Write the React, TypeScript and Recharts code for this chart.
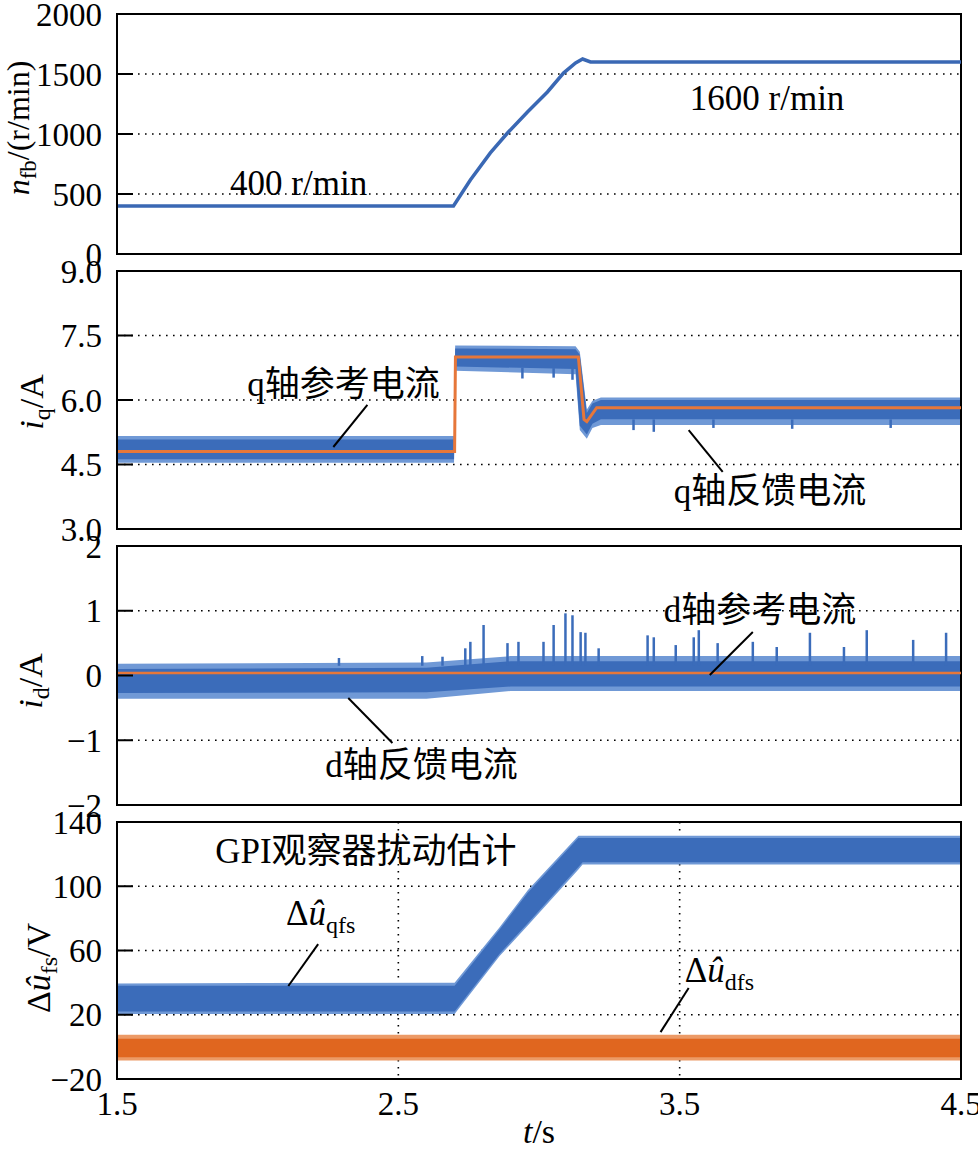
import React from 'react';
import {
  ComposedChart,
  Line,
  Area,
  XAxis,
  YAxis,
  CartesianGrid,
  ReferenceLine,
  ReferenceDot,
  ReferenceArea,
} from 'recharts';

// ---------- shared axis ----------
const tDomain = [1.5, 4.5];
const tTicks = [1.5, 2.5, 3.5, 4.5];

// ---------- panel 1: speed n_fb ----------
const speedT = [1.5, 2.696, 2.756, 2.827, 2.888, 2.959, 3.03, 3.087, 3.13, 3.155, 3.183, 4.5];
const speedN = [400, 400, 617, 842, 1008, 1183, 1350, 1508, 1592, 1625, 1600, 1600];
const speedTicks = [0, 500, 1000, 1500, 2000];

// ---------- panel 2: i_q ----------
const iqRefT = [1.5, 2.7, 2.703, 3.14, 3.16, 3.17, 3.205, 4.5];
const iqRefV = [4.8, 4.8, 7.0, 7.0, 5.55, 5.5, 5.82, 5.82];
const iqBandT = [1.5, 2.698, 2.702, 3.13, 3.145, 3.17, 3.19, 3.22, 4.5];
const iqFringeHigh = [5.16, 5.16, 7.27, 7.25, 7.12, 5.78, 5.98, 6.06, 6.06];
const iqFringeLow = [4.54, 4.54, 6.68, 6.6, 5.3, 5.1, 5.35, 5.42, 5.42];
const iqCoreHigh = [5.08, 5.08, 7.2, 7.18, 7.05, 5.7, 5.92, 6.0, 6.0];
const iqCoreLow = [4.62, 4.62, 6.78, 6.72, 5.4, 5.2, 5.45, 5.55, 5.55];
const iqSpikeT = [2.941, 3.052, 3.119, 3.336, 3.408, 3.62, 3.9, 4.25];
const iqSpikeFrom = [6.75, 6.74, 6.73, 5.55, 5.55, 5.55, 5.55, 5.55];
const iqSpikeTo = [6.5, 6.52, 6.47, 5.3, 5.26, 5.35, 5.33, 5.35];
const iqTicks = [3.0, 4.5, 6.0, 7.5, 9.0];

// ---------- panel 3: i_d ----------
const idRefT = [1.5, 4.5];
const idRefV = [0.04, 0.04];
const idBandT = [1.5, 2.6, 2.9, 4.5];
const idFringeHigh = [0.18, 0.2, 0.3, 0.3];
const idFringeLow = [-0.36, -0.36, -0.24, -0.24];
const idCoreHigh = [0.1, 0.12, 0.22, 0.22];
const idCoreLow = [-0.27, -0.26, -0.17, -0.17];
const idSpikeT = [2.289, 2.585, 2.657, 2.738, 2.756, 2.803, 2.888, 2.927, 3.016, 3.052, 3.094, 3.119, 3.148, 3.165, 3.212, 3.386, 3.408, 3.486, 3.55, 3.568, 3.635, 3.76, 3.845, 3.963, 4.084, 4.165, 4.33, 4.447];
const idSpikeV = [0.27, 0.3, 0.29, 0.42, 0.52, 0.78, 0.5, 0.52, 0.52, 0.78, 0.96, 0.93, 0.67, 0.66, 0.42, 0.62, 0.59, 0.47, 0.59, 0.7, 0.5, 0.52, 0.44, 0.66, 0.44, 0.7, 0.55, 0.66];
const idSpikeBase = 0.15;
const idTicks = [-2, -1, 0, 1, 2];

// ---------- panel 4: GPI disturbance estimates ----------
const qfsT = [1.5, 2.7, 2.86, 2.96, 3.14, 3.155, 4.5];
const qfsHigh = [38, 38, 73, 96, 130, 130, 130];
const qfsLow = [22, 22, 58, 77, 112, 115, 115];
const qfsFringeHigh = [39.5, 40, 74.5, 97.5, 131.5, 131.5, 131.5];
const qfsFringeLow = [20.5, 20.5, 56.5, 75.5, 110.5, 113.5, 113.5];
const dfsT = [1.5, 4.5];
const dfsHigh = [5, 5];
const dfsLow = [-6.5, -6.5];
const dfsFringeHigh = [7.5, 7.5];
const dfsFringeLow = [-8.5, -8.5];
const uTicks = [-20, 20, 60, 100, 140];

// ---------- styling ----------
const W = 978;
const PLOT_LEFT = 117;
const PLOT_RIGHT = 961;
const M = 20;
const SERIF = "'Liberation Serif', 'Times New Roman', serif";
const MIXED = "'Liberation Serif', 'Noto Sans CJK SC', serif";
const BLUE = '#3B6CBA';
const BLUE_LIGHT = '#7099D6';
const ORANGE = '#E6773A';
const ORANGE_BAND = '#E0661F';
const ORANGE_LIGHT = '#EC9A66';

const band = (t: number[], lo: number[], hi: number[]) => t.map((x, i) => ({ t: x, r: [lo[i], hi[i]] }));
const line = (t: number[], v: number[]) => t.map((x, i) => ({ t: x, v: v[i] }));

const areaEl = (key: string, data: any[], fill: string, opacity = 1) => (
  <Area
    key={key}
    data={data}
    dataKey="r"
    type="linear"
    stroke="none"
    fill={fill}
    fillOpacity={opacity}
    isAnimationActive={false}
    dot={false}
    activeDot={false}
  />
);

const lineEl = (key: string, data: any[], stroke: string, width: number) => (
  <Line
    key={key}
    data={data}
    dataKey="v"
    type="linear"
    stroke={stroke}
    strokeWidth={width}
    dot={false}
    activeDot={false}
    isAnimationActive={false}
  />
);

const note = (key: string, t: number, v: number, content: React.ReactNode, size = 35) => (
  <ReferenceDot
    key={key}
    x={t}
    y={v}
    r={0}
    ifOverflow="visible"
    shape={(p: any) => (
      <text x={p.cx} y={p.cy} textAnchor="start" fontFamily={MIXED} fontSize={size} fill="#000">
        {content}
      </text>
    )}
  />
);

const leader = (key: string, t1: number, v1: number, t2: number, v2: number) => (
  <ReferenceLine
    key={key}
    segment={[
      { x: t1, y: v1 },
      { x: t2, y: v2 },
    ]}
    stroke="#000"
    strokeWidth={2}
    ifOverflow="visible"
  />
);

const spikes = (key: string, t: number[], from: number[] | number, to: number[], color: string) =>
  t.map((x, i) => (
    <ReferenceLine
      key={`${key}${i}`}
      segment={[
        { x, y: Array.isArray(from) ? from[i] : from },
        { x, y: to[i] },
      ]}
      stroke={color}
      strokeWidth={2.5}
      ifOverflow="visible"
    />
  ));

type PanelProps = {
  plotTop: number;
  plotH: number;
  bottom: number;
  domain: number[];
  ticks: number[];
  fmt: (v: number) => string;
  yLabel: () => React.ReactNode;
  xTicks?: boolean;
  children: React.ReactNode;
};

function Panel({ plotTop, plotH, bottom, domain, ticks, fmt, yLabel, xTicks, children }: PanelProps) {
  const height = M + plotH + bottom;
  const xAxisH = xTicks ? bottom - 10 : 0;
  return (
    <div style={{ position: 'absolute', left: 0, top: plotTop - M, width: W, height }}>
      <ComposedChart width={W} height={height} margin={{ top: M, right: W - PLOT_RIGHT, bottom: bottom - xAxisH, left: 0 }}>
        <CartesianGrid stroke="#000" strokeWidth={1.6} strokeDasharray="1.6 5.4" />
        <XAxis
          dataKey="t"
          type="number"
          domain={tDomain}
          ticks={tTicks}
          interval={0}
          allowDataOverflow
          height={xAxisH}
          tickLine={false}
          tickSize={0}
          tickMargin={13}
          axisLine={{ stroke: '#000', strokeWidth: 2 }}
          tick={xTicks ? { fill: '#000', fontSize: 33, fontFamily: SERIF } : false}
          tickFormatter={(v: number) => v.toFixed(1)}
          label={
            xTicks
              ? () => (
                  <text x={(PLOT_LEFT + PLOT_RIGHT) / 2} y={M + plotH + 64} textAnchor="middle" fontFamily={SERIF} fontSize={34} fill="#000">
                    <tspan fontStyle="italic">t</tspan>
                    <tspan>/s</tspan>
                  </text>
                )
              : undefined
          }
        />
        <YAxis
          type="number"
          domain={domain}
          ticks={ticks}
          interval={0}
          allowDataOverflow
          width={PLOT_LEFT}
          tickSize={-16}
          tickMargin={31}
          tickLine={{ stroke: '#000', strokeWidth: 2 }}
          axisLine={{ stroke: '#000', strokeWidth: 2 }}
          tick={{ fill: '#000', fontSize: 33, fontFamily: SERIF }}
          tickFormatter={fmt}
          label={() => yLabel() as any}
        />
        {children}
        <ReferenceArea
          x1={tDomain[0]}
          x2={tDomain[1]}
          y1={domain[0]}
          y2={domain[1]}
          fill="none"
          fillOpacity={0}
          stroke="#000"
          strokeWidth={2}
          ifOverflow="visible"
        />
      </ComposedChart>
    </div>
  );
}

const rotLabel = (x: number, y: number, content: React.ReactNode, size = 34) => (
  <text x={x} y={y} transform={`rotate(-90 ${x} ${y})`} textAnchor="middle" fontFamily={SERIF} fontSize={size} fill="#000">
    {content}
  </text>
);

const minusFmt = (v: number) => (v < 0 ? `\u2212${Math.abs(v)}` : `${v}`);

export default function App() {
  return (
    <div style={{ position: 'absolute', left: 0, top: 0, width: W, height: 1150, background: '#fff', overflow: 'hidden' }}>
      {/* Panel 1: speed */}
      <Panel
        plotTop={14}
        plotH={240}
        bottom={20}
        domain={[0, 2000]}
        ticks={speedTicks}
        fmt={(v) => `${v}`}
        yLabel={() =>
          rotLabel(
            29,
            M + 114,
            <>
              <tspan fontStyle="italic">n</tspan>
              <tspan fontSize={23} dy={7}>fb</tspan>
              <tspan dy={-7}>/(r/min)</tspan>
            </>,
            32
          )
        }
      >
        {[
          lineEl('speed', line(speedT, speedN), '#3A68B4', 3.5),
          note('n400', 1.902, 492, '400 r/min'),
          note('n1600', 3.536, 1200, '1600 r/min'),
        ]}
      </Panel>

      {/* Panel 2: iq */}
      <Panel
        plotTop={271}
        plotH={258}
        bottom={20}
        domain={[3, 9]}
        ticks={iqTicks}
        fmt={(v) => v.toFixed(1)}
        yLabel={() =>
          rotLabel(
            43,
            M + 131,
            <>
              <tspan fontStyle="italic">i</tspan>
              <tspan fontSize={24} dy={7}>q</tspan>
              <tspan dy={-7}>/A</tspan>
            </>
          )
        }
      >
        {[
          areaEl('iqF', band(iqBandT, iqFringeLow, iqFringeHigh), BLUE_LIGHT),
          areaEl('iqC', band(iqBandT, iqCoreLow, iqCoreHigh), BLUE),
          ...spikes('iqS', iqSpikeT, iqSpikeFrom, iqSpikeTo, BLUE),
          lineEl('iqRef', line(iqRefT, iqRefV), ORANGE, 3),
          note('qref', 1.963, 6.09, 'q轴参考电流'),
          leader('qrefL', 2.39, 5.884, 2.269, 4.907),
          note('qfb', 3.479, 3.605, 'q轴反馈电流'),
          leader('qfbL', 3.532, 5.302, 3.653, 4.326),
        ]}
      </Panel>

      {/* Panel 3: id */}
      <Panel
        plotTop={546}
        plotH={259}
        bottom={20}
        domain={[-2, 2]}
        ticks={idTicks}
        fmt={minusFmt}
        yLabel={() =>
          rotLabel(
            42,
            M + 135,
            <>
              <tspan fontStyle="italic">i</tspan>
              <tspan fontSize={24} dy={7}>d</tspan>
              <tspan dy={-7}>/A</tspan>
            </>
          )
        }
      >
        {[
          areaEl('idF', band(idBandT, idFringeLow, idFringeHigh), BLUE_LIGHT),
          areaEl('idC', band(idBandT, idCoreLow, idCoreHigh), BLUE),
          ...spikes('idS', idSpikeT, idSpikeBase, idSpikeV, BLUE),
          lineEl('idRef', line(idRefT, idRefV), ORANGE, 2.5),
          note('dref', 3.443, 0.826, 'd轴参考电流'),
          leader('drefL', 3.76, 0.672, 3.607, 0.008),
          note('dfb', 2.24, -1.568, 'd轴反馈电流'),
          leader('dfbL', 2.322, -0.347, 2.479, -1.042),
        ]}
      </Panel>

      {/* Panel 4: disturbance estimates */}
      <Panel
        plotTop={822}
        plotH={257}
        bottom={71}
        domain={[-20, 140]}
        ticks={uTicks}
        fmt={minusFmt}
        xTicks
        yLabel={() =>
          rotLabel(
            50,
            M + 146,
            <>
              <tspan>Δ</tspan>
              <tspan fontStyle="italic">û</tspan>
              <tspan fontSize={24} dy={7}>fs</tspan>
              <tspan dy={-7}>/V</tspan>
            </>
          )
        }
      >
        {[
          areaEl('qfsF', band(qfsT, qfsFringeLow, qfsFringeHigh), BLUE_LIGHT),
          areaEl('qfsC', band(qfsT, qfsLow, qfsHigh), BLUE),
          areaEl('dfsF', band(dfsT, dfsFringeLow, dfsFringeHigh), ORANGE_LIGHT),
          areaEl('dfsC', band(dfsT, dfsLow, dfsHigh), ORANGE_BAND),
          note('gpi', 1.849, 114.5, 'GPI观察器扰动估计'),
          note(
            'qfs',
            2.101,
            75.9,
            <>
              <tspan>Δ</tspan>
              <tspan fontStyle="italic">û</tspan>
              <tspan fontSize={24} dy={8}>qfs</tspan>
            </>
          ),
          leader('qfsL', 2.109, 37.9, 2.215, 64.0),
          note(
            'dfs',
            3.518,
            40.4,
            <>
              <tspan>Δ</tspan>
              <tspan fontStyle="italic">û</tspan>
              <tspan fontSize={24} dy={8}>dfs</tspan>
            </>
          ),
          leader('dfsL', 3.532, 36.6, 3.432, 9.2),
        ]}
      </Panel>
    </div>
  );
}
